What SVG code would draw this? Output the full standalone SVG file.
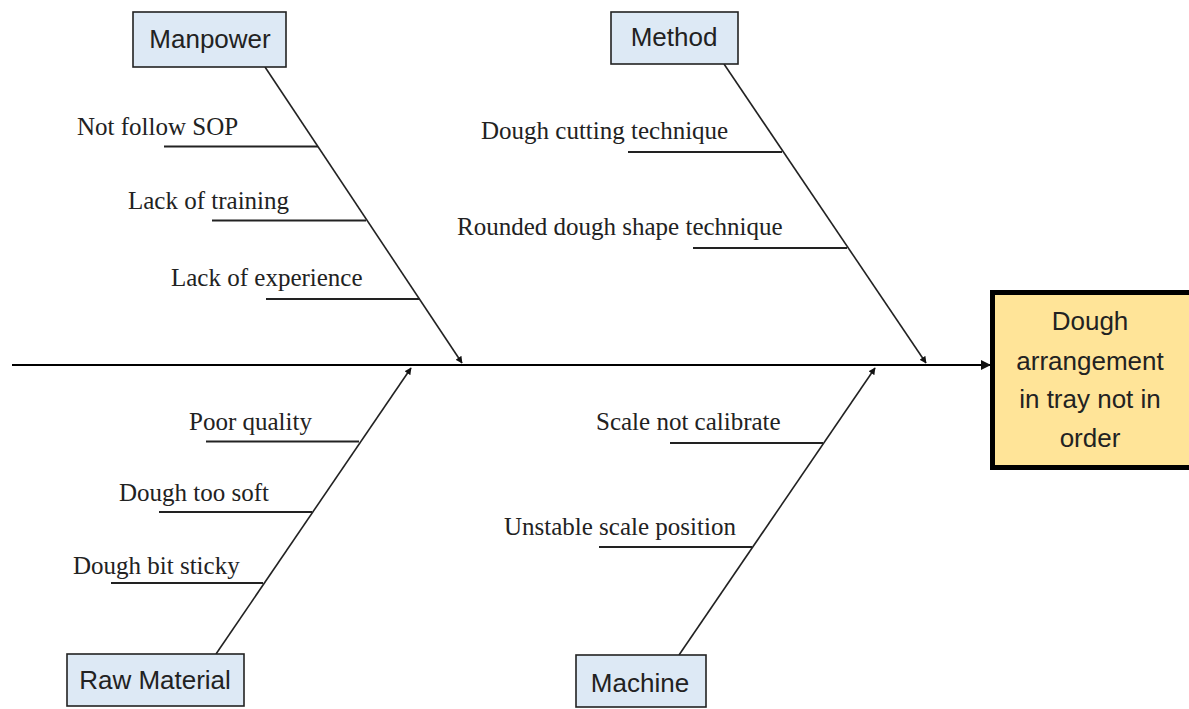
<svg xmlns="http://www.w3.org/2000/svg" width="1189" height="709" viewBox="0 0 1189 709">
  <style>
    .cat rect { fill: #dde9f5; stroke: #222; stroke-width: 1.6; }
    .cat text { font-family: "Liberation Sans", Arial, sans-serif; font-size: 26px; fill: #222; text-anchor: middle; }
    .effect rect { fill: #ffe498; stroke: #000; stroke-width: 5; }
    .effect text { font-family: "Liberation Sans", Arial, sans-serif; font-size: 26px; fill: #222; text-anchor: middle; }
    .cause { font-family: "Liberation Serif", "Times New Roman", serif; font-size: 25px; fill: #222; }
    .bone { stroke: #222; stroke-width: 1.6; fill: none; }
    .rib { stroke: #222; stroke-width: 1.8; fill: none; }
    .spine { stroke: #000; stroke-width: 2.2; fill: none; }
  </style>
  <defs>
    <marker id="arrow" viewBox="0 0 10 10" refX="9" refY="5" markerWidth="7" markerHeight="7" markerUnits="userSpaceOnUse" orient="auto">
      <path d="M0,0 L10,5 L0,10 Z" fill="#111"/>
    </marker>
    <marker id="arrowBig" viewBox="0 0 10 10" refX="9" refY="5" markerWidth="10" markerHeight="10" markerUnits="userSpaceOnUse" orient="auto">
      <path d="M0,0 L10,5 L0,10 Z" fill="#111"/>
    </marker>
  </defs>

  <rect width="1189" height="709" fill="#fff"/>

  <!-- connectors: spine, main bones and ribs -->
  <g id="connectors">
    <line class="spine" x1="12" y1="365" x2="990" y2="365" marker-end="url(#arrowBig)"/>
    <line class="bone" x1="265" y1="67" x2="462" y2="363" marker-end="url(#arrow)"/>
    <line class="bone" x1="724" y1="64" x2="926" y2="363" marker-end="url(#arrow)"/>
    <line class="bone" x1="216" y1="654" x2="411" y2="368" marker-end="url(#arrow)"/>
    <line class="bone" x1="679" y1="655" x2="875" y2="368" marker-end="url(#arrow)"/>

    <line class="rib" x1="164" y1="146.5" x2="318" y2="146.5"/>
    <line class="rib" x1="212" y1="220.5" x2="366" y2="220.5"/>
    <line class="rib" x1="266" y1="299" x2="420" y2="299"/>

    <line class="rib" x1="628" y1="152" x2="782" y2="152"/>
    <line class="rib" x1="693" y1="248" x2="847" y2="248"/>

    <line class="rib" x1="206" y1="441.5" x2="359" y2="441.5"/>
    <line class="rib" x1="159" y1="512" x2="312" y2="512"/>
    <line class="rib" x1="111" y1="583" x2="263" y2="583"/>

    <line class="rib" x1="670" y1="443" x2="823" y2="443"/>
    <line class="rib" x1="599" y1="547" x2="752" y2="547"/>
  </g>

  <!-- category heads -->
  <g id="manpower" class="cat">
    <rect x="133" y="12" width="153" height="55"/>
    <text x="210" y="48">Manpower</text>
  </g>
  <g id="method" class="cat">
    <rect x="611" y="12" width="127" height="52"/>
    <text x="674" y="46">Method</text>
  </g>
  <g id="raw-material" class="cat">
    <rect x="67" y="654" width="177" height="52"/>
    <text x="155" y="689">Raw Material</text>
  </g>
  <g id="machine" class="cat">
    <rect x="576" y="655" width="130" height="52"/>
    <text x="640" y="692">Machine</text>
  </g>

  <!-- effect -->
  <g id="effect" class="effect">
    <rect x="992.5" y="292.5" width="199" height="175"/>
    <text x="1090" y="330">Dough</text>
    <text x="1090" y="370">arrangement</text>
    <text x="1090" y="408">in tray not in</text>
    <text x="1090" y="447">order</text>
  </g>

  <!-- causes -->
  <g id="causes-manpower">
    <text class="cause" x="77" y="135">Not follow SOP</text>
    <text class="cause" x="128" y="209">Lack of training</text>
    <text class="cause" x="171" y="286">Lack of experience</text>
  </g>
  <g id="causes-method">
    <text class="cause" x="481" y="139">Dough cutting technique</text>
    <text class="cause" x="457" y="235">Rounded dough shape technique</text>
  </g>
  <g id="causes-raw-material">
    <text class="cause" x="189" y="430">Poor quality</text>
    <text class="cause" x="119" y="501">Dough too soft</text>
    <text class="cause" x="73" y="574">Dough bit sticky</text>
  </g>
  <g id="causes-machine">
    <text class="cause" x="596" y="430">Scale not calibrate</text>
    <text class="cause" x="504" y="535">Unstable scale position</text>
  </g>
</svg>
